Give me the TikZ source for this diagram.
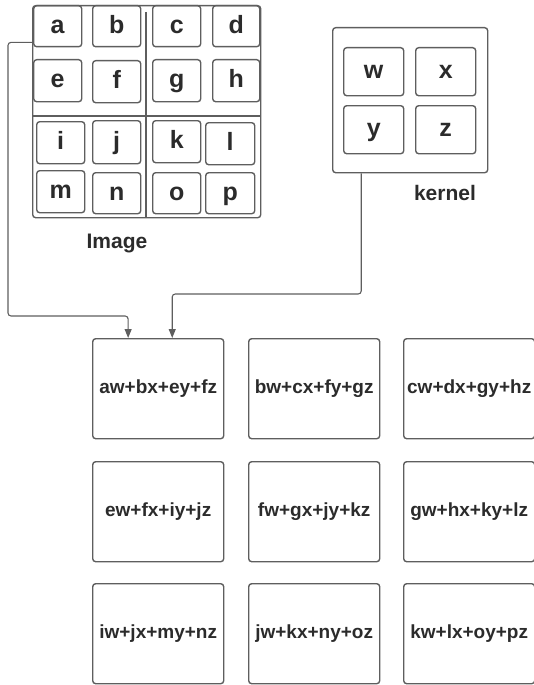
\documentclass[tikz,border=0pt]{standalone}
\usepackage{fontspec}
\setmainfont{Liberation Sans}
\usetikzlibrary{arrows.meta,calc}
\definecolor{edge}{HTML}{5E5E5E}
\definecolor{ink}{HTML}{2B2B2B}
\begin{document}
\begin{tikzpicture}[x=1pt,y=-1pt,
  box/.style={draw=edge, line width=1.4pt, rounded corners=3pt, inner sep=0pt},
  cell/.style={box, anchor=north west, text=ink,
    font=\fontsize{25}{25}\selectfont\bfseries, text height=18pt, text depth=4pt},
  result/.style={box, anchor=north west, minimum width=131pt, minimum height=100pt, text=ink,
    font=\fontsize{19}{19}\selectfont\bfseries},
  caption/.style={text=ink, font=\fontsize{21}{21}\selectfont\bfseries},
  conn/.style={draw=edge, line width=1.1pt, rounded corners=3pt,
    -{Triangle[length=9pt,width=7pt]}}
]
\useasboundingbox (0,0) rectangle (533,685);

% input image: outer frame with its quadrant dividers
\node[box, anchor=north west, minimum width=228pt, minimum height=212pt] (img) at (32,5) {};
\draw[draw=edge, line width=1.2pt] (146,12) -- (146,217);
\draw[draw=edge, line width=1.2pt] (32,116) -- (260,116);

% pixel cells: name / left / top / right / bottom
\foreach \n/\l/\t/\r/\b in {
  a/33/5/81/46, b/92/5/140/46, c/152/5/200/46, d/212/5/259/46,
  e/33/59/81/101, f/92/60/140/102, g/152/59/200/101, h/212/59/259/101,
  i/36/121/84/163, j/92/120/140/163, k/152/120/200/162, l/205/122/254/164,
  m/36/170/84/212, n/92/172/140/213, o/152/172/200/213, p/205/172/254/213}
  \node[cell, minimum width={(\r-\l)*1pt}, minimum height={(\b-\t)*1pt}] (\n) at (\l,\t) {\n};

\node[caption] (imglabel) at (117,243) {Image};

% kernel
\node[box, anchor=north west, minimum width=155pt, minimum height=145pt] (ker) at (332,27) {};
\foreach \n/\l/\t in {w/343/47, x/415/47, y/343/105, z/415/105}
  \node[cell, minimum width=60pt, minimum height=48pt] (\n) at (\l,\t) {\n};
\node[caption] (kerlabel) at (445,193) {kernel};

% output grid
\node[result] (r11) at (92,338)  {aw+bx+ey+fz};
\node[result] (r12) at (248,338) {bw+cx+fy+gz};
\node[result] (r13) at (403,338) {cw+dx+gy+hz};
\node[result] (r21) at (92,461)  {ew+fx+iy+jz};
\node[result] (r22) at (248,461) {fw+gx+jy+kz};
\node[result] (r23) at (403,461) {gw+hx+ky+lz};
\node[result] (r31) at (92,583)  {iw+jx+my+nz};
\node[result] (r32) at (248,583) {jw+kx+ny+oz};
\node[result] (r33) at (403,583) {kw+lx+oy+pz};

% connectors into the first output cell
\coordinate (imgout) at ($(img.north west)!0.175!(img.south west)$);
\coordinate (kerout) at ($(ker.south west)!0.187!(ker.south east)$);
\coordinate (in1) at ($(r11.north west)!0.273!(r11.north east)$);
\coordinate (in2) at ($(r11.north west)!0.606!(r11.north east)$);
\draw[conn] (imgout) -- (8,42 |- imgout) -- (8,316) -- (in1 |- 0,316) -- (in1);
\draw[conn] (kerout) -- (kerout |- 0,294) -- (in2 |- 0,294) -- (in2);
\end{tikzpicture}
\end{document}
